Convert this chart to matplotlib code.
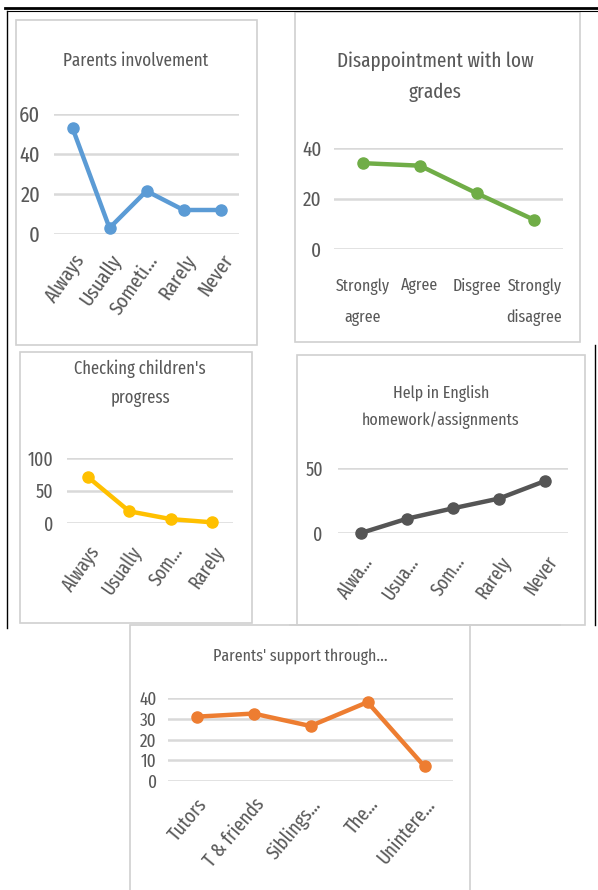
import matplotlib
matplotlib.use("Agg")
import matplotlib.pyplot as plt
from matplotlib.patches import Rectangle
from matplotlib.lines import Line2D

W, H = 598, 890

# data
inv_cats = ["Always", "Usually", "Someti...", "Rarely", "Never"]
inv_vals = [53, 3, 21.5, 12, 12]

dis_cats = ["Strongly\nagree", "Agree", "Disgree", "Strongly\ndisagree"]
dis_vals = [34, 33, 22, 11.5]

chk_cats = ["Always", "Usually", "Som...", "Rarely"]
chk_vals = [71, 18, 6, 1]

help_cats = ["Alwa...", "Usua...", "Som...", "Rarely", "Never"]
help_vals = [0, 11, 19, 26.5, 40]

sup_cats = ["Tutors", "T & friends", "Siblings...", "The...", "Unintere..."]
sup_vals = [31, 32.5, 26.5, 38, 7]

plt.rcParams['font.family'] = ['Fira Sans Extra Condensed', 'Roboto Condensed', 'DejaVu Sans']
GRAY = "#595959"
GRID = "#D9D9D9"

fig = plt.figure(figsize=(W / 100, H / 100), dpi=100)


def fx(x):
    return x / W


def fy(y):
    return 1 - y / H


def box(x0, y0, x1, y1, color="#D0D0D0", lw=1.2):
    fig.patches.append(Rectangle((fx(x0), fy(y1)), fx(x1) - fx(x0), fy(y0) - fy(y1),
                                 transform=fig.transFigure, fill=False,
                                 edgecolor=color, linewidth=lw))


def line(x0, y0, x1, y1, color="black", lw=1.0):
    fig.lines.append(Line2D([fx(x0), fx(x1)], [fy(y0), fy(y1)],
                            transform=fig.transFigure, color=color, linewidth=lw))


def panel(l, r, t, b, cats, vals, ymax, step, color, rot=55, yfs=14, xfs=14,
          ypad=8, xpad=8):
    ax = fig.add_axes([fx(l), fy(b), fx(r) - fx(l), fy(t) - fy(b)])
    x = range(len(cats))
    ax.plot(x, vals, color=color, lw=3.2, marker="o", ms=8, clip_on=False, zorder=3)
    ax.set_xlim(-0.5, len(cats) - 0.5)
    ax.set_ylim(0, ymax)
    ax.set_yticks(range(0, ymax + 1, step))
    for s in ax.spines.values():
        s.set_visible(False)
    ax.yaxis.grid(True, color=GRID, lw=1.8)
    ax.set_axisbelow(True)
    ax.tick_params(length=0, colors=GRAY)
    ax.tick_params(axis="y", pad=ypad, labelsize=yfs)
    ax.tick_params(axis="x", pad=xpad, labelsize=xfs)
    ax.set_xticks(list(x))
    if rot:
        ax.set_xticklabels(cats, rotation=rot, ha="right", rotation_mode="anchor")
    else:
        ax.set_xticklabels(cats, linespacing=2.1, va="top")
    return ax


# frame lines of the page
line(5, 8, 598, 8, lw=2.0)
line(7, 11, 598, 11, lw=0.8)
line(7, 11, 7, 628, lw=1.0)
line(595, 345, 595, 625, lw=1.0)

# chart borders
box(16, 20, 257, 345)
box(295, 12, 580, 342)
box(20, 352, 252, 623)
box(297, 355, 585, 625)
box(130, 625, 470, 892)
line(290, 625, 357, 625, color="#D0D0D0", lw=1.2)
line(470, 625, 560, 625, color="#D0D0D0", lw=1.2)

# titles
fig.text(fx(136), fy(61), "Parents involvement", ha="center", va="center",
         fontsize=13.5, color=GRAY)
fig.text(fx(435), fy(77), "Disappointment with low\ngrades", ha="center", va="center",
         fontsize=15, color=GRAY, linespacing=1.75)
fig.text(fx(140), fy(383), "Checking children's\nprogress", ha="center", va="center",
         fontsize=13, color=GRAY, linespacing=1.75)
fig.text(fx(441), fy(407), "Help in English\nhomework/assignments", ha="center", va="center",
         fontsize=12.5, color=GRAY, linespacing=1.7)
fig.text(fx(300), fy(657), "Parents' support through...", ha="center", va="center",
         fontsize=12.5, color=GRAY)

panel(54, 239, 114, 234, inv_cats, inv_vals, 60, 20, "#5B9BD5",
      yfs=16, xfs=15, ypad=10, xpad=12)
panel(334, 563, 148, 249, dis_cats, dis_vals, 40, 20, "#70AD47", rot=0,
      yfs=15, xfs=12.5, ypad=9, xpad=21)
panel(67, 233, 458, 523, chk_cats, chk_vals, 100, 50, "#FFC000",
      yfs=14, xfs=14, ypad=10, xpad=14)
panel(338, 568, 468, 533, help_cats, help_vals, 50, 50, "#555555",
      yfs=14, xfs=14, ypad=11, xpad=14)
panel(168, 453, 698, 781, sup_cats, sup_vals, 40, 10, "#ED7D31", rot=50,
      yfs=13.5, xfs=14.5, ypad=8, xpad=10)

fig.savefig("out.png", dpi=100, facecolor="white")
